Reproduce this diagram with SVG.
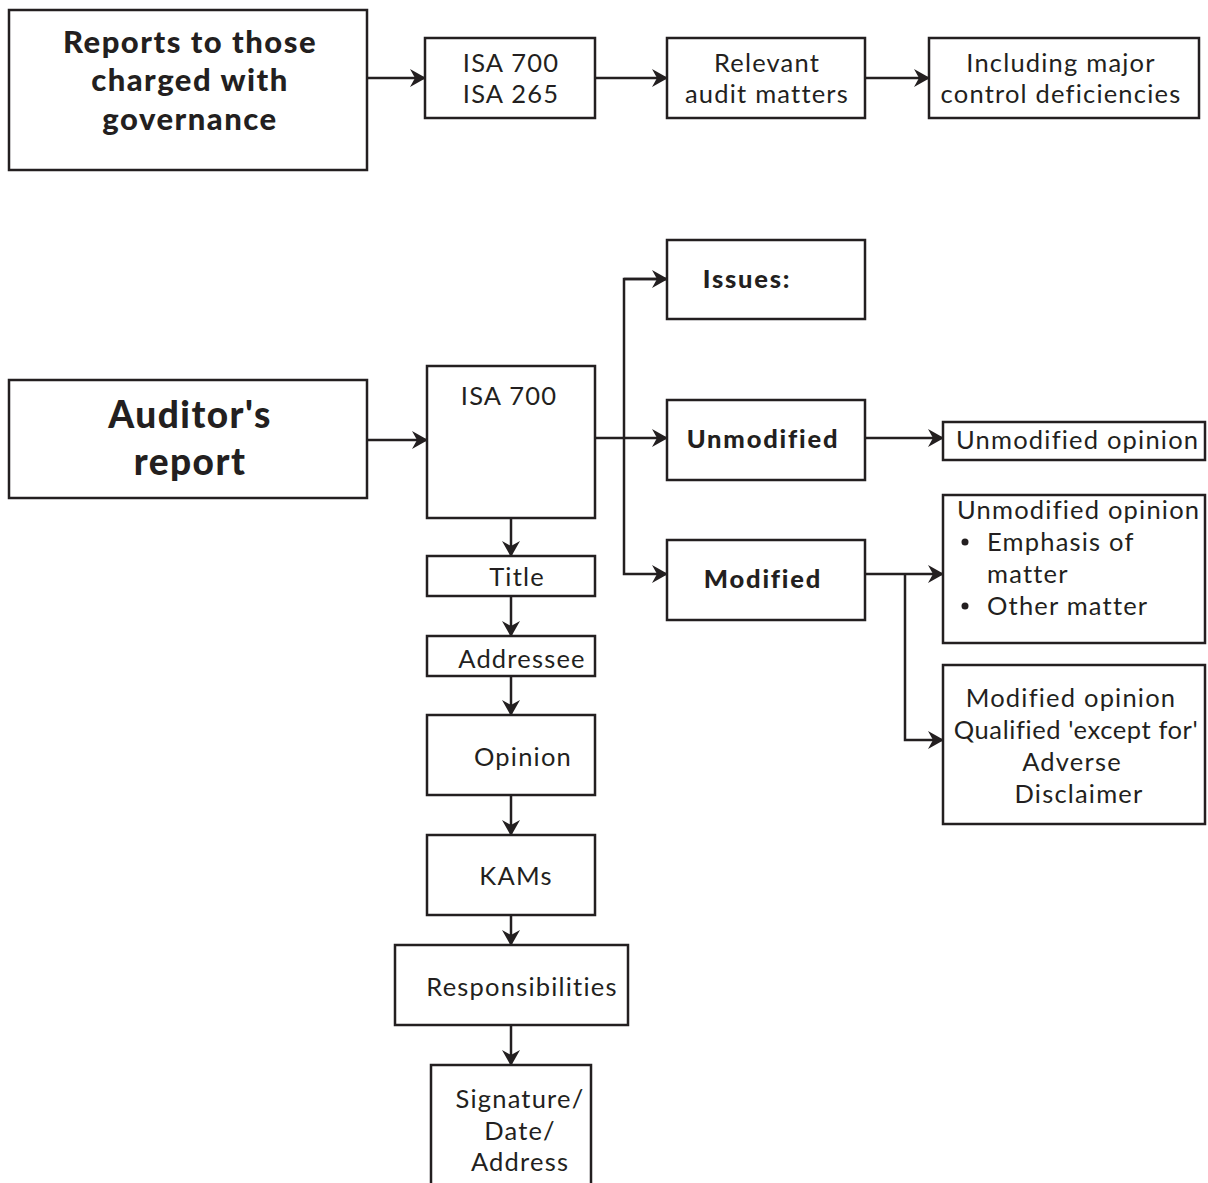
<svg xmlns="http://www.w3.org/2000/svg" width="1208" height="1183" viewBox="0 0 1208 1183">
  <defs>
    <marker id="arrow" markerWidth="20" markerHeight="20" refX="15" refY="10" orient="auto" markerUnits="userSpaceOnUse">
      <path d="M0,1 L16,10 L0,19 L5,10 Z" fill="#231f20"/>
    </marker>
    <style>
      .box { fill: #ffffff; stroke: #231f20; stroke-width: 2.5; }
      .conn { fill: none; stroke: #231f20; stroke-width: 2.5; }
      .t { font-family: Lato, "Open Sans", sans-serif; font-weight: 400; font-size: 25.5px; letter-spacing: 1.2px; fill: #231f20; }
      .tc { text-anchor: middle; }
      .b { font-family: Lato, "Open Sans", sans-serif; font-weight: 900; fill: #231f20; text-anchor: middle; }
    </style>
  </defs>

  <rect width="1208" height="1183" fill="#ffffff"/>

  <!-- connectors -->
  <g id="connectors">
    <path class="conn" d="M367,78 H425" marker-end="url(#arrow)"/>
    <path class="conn" d="M595,78 H667" marker-end="url(#arrow)"/>
    <path class="conn" d="M865,78 H929" marker-end="url(#arrow)"/>

    <path class="conn" d="M367,440 H427" marker-end="url(#arrow)"/>
    <path class="conn" d="M595,438 H667" marker-end="url(#arrow)"/>
    <path class="conn" d="M667,279 H624 V574 H667" marker-end="url(#arrow)"/>
    <path class="conn" d="M624,279 H667" marker-end="url(#arrow)"/>

    <path class="conn" d="M865,438 H943" marker-end="url(#arrow)"/>
    <path class="conn" d="M865,574 H943" marker-end="url(#arrow)"/>
    <path class="conn" d="M905,574 V740 H943" marker-end="url(#arrow)"/>

    <path class="conn" d="M511,518 V556" marker-end="url(#arrow)"/>
    <path class="conn" d="M511,596 V636" marker-end="url(#arrow)"/>
    <path class="conn" d="M511,676 V715" marker-end="url(#arrow)"/>
    <path class="conn" d="M511,795 V835" marker-end="url(#arrow)"/>
    <path class="conn" d="M511,915 V945" marker-end="url(#arrow)"/>
    <path class="conn" d="M511,1025 V1065" marker-end="url(#arrow)"/>
  </g>

  <!-- top row -->
  <g id="node-tcwg">
    <rect class="box" x="9" y="10" width="358" height="160"/>
    <text class="b" font-size="31" letter-spacing="1.5" x="190" y="53">Reports to those</text>
    <text class="b" font-size="31" letter-spacing="1.5" x="190" y="91">charged with</text>
    <text class="b" font-size="31" letter-spacing="1.5" x="190" y="130">governance</text>
  </g>
  <g id="node-isa700-265">
    <rect class="box" x="425" y="38" width="170" height="80"/>
    <text class="t tc" x="511" y="72">ISA 700</text>
    <text class="t tc" x="511" y="103">ISA 265</text>
  </g>
  <g id="node-relevant">
    <rect class="box" x="667" y="38" width="198" height="80"/>
    <text class="t tc" x="767" y="72">Relevant</text>
    <text class="t tc" x="767" y="103">audit matters</text>
  </g>
  <g id="node-deficiencies">
    <rect class="box" x="929" y="38" width="270" height="80"/>
    <text class="t tc" x="1061" y="72">Including major</text>
    <text class="t tc" x="1061" y="103">control deficiencies</text>
  </g>

  <!-- auditor's report -->
  <g id="node-auditors-report">
    <rect class="box" x="9" y="380" width="358" height="118"/>
    <text class="b" font-size="37" letter-spacing="1.5" x="190" y="428">Auditor's</text>
    <text class="b" font-size="37" letter-spacing="1.5" x="190" y="475">report</text>
  </g>
  <g id="node-isa700">
    <rect class="box" x="427" y="366" width="168" height="152"/>
    <text class="t tc" x="509" y="405">ISA 700</text>
  </g>

  <g id="node-issues">
    <rect class="box" x="667" y="240" width="198" height="79"/>
    <text class="b" font-size="25.5" letter-spacing="1.8" x="747" y="288">Issues:</text>
  </g>
  <g id="node-unmodified">
    <rect class="box" x="667" y="400" width="198" height="80"/>
    <text class="b" font-size="25.5" letter-spacing="1.8" x="763" y="448">Unmodified</text>
  </g>
  <g id="node-modified">
    <rect class="box" x="667" y="540" width="198" height="80"/>
    <text class="b" font-size="25.5" letter-spacing="1.8" x="763" y="588">Modified</text>
  </g>

  <g id="node-unmodified-opinion">
    <rect class="box" x="943" y="422" width="262" height="38"/>
    <text class="t" x="956" y="449">Unmodified opinion</text>
  </g>
  <g id="node-emphasis">
    <rect class="box" x="943" y="495" width="262" height="148"/>
    <text class="t" x="957" y="519">Unmodified opinion</text>
    <circle cx="965" cy="542" r="3.5" fill="#231f20"/>
    <text class="t" x="987" y="551">Emphasis of</text>
    <text class="t" x="987" y="583">matter</text>
    <circle cx="965" cy="606" r="3.5" fill="#231f20"/>
    <text class="t" x="987" y="615">Other matter</text>
  </g>
  <g id="node-modified-opinion">
    <rect class="box" x="943" y="665" width="262" height="159"/>
    <text class="t tc" x="1071" y="707">Modified opinion</text>
    <text class="t tc" x="1076" y="739" style="letter-spacing:0.6px">Qualified 'except for'</text>
    <text class="t tc" x="1072" y="771">Adverse</text>
    <text class="t tc" x="1079" y="803">Disclaimer</text>
  </g>

  <!-- report elements -->
  <g id="node-title">
    <rect class="box" x="427" y="556" width="168" height="40"/>
    <text class="t tc" x="517" y="586">Title</text>
  </g>
  <g id="node-addressee">
    <rect class="box" x="427" y="636" width="168" height="40"/>
    <text class="t tc" x="522" y="668">Addressee</text>
  </g>
  <g id="node-opinion">
    <rect class="box" x="427" y="715" width="168" height="80"/>
    <text class="t tc" x="523" y="766">Opinion</text>
  </g>
  <g id="node-kams">
    <rect class="box" x="427" y="835" width="168" height="80"/>
    <text class="t tc" x="516" y="885">KAMs</text>
  </g>
  <g id="node-responsibilities">
    <rect class="box" x="395" y="945" width="233" height="80"/>
    <text class="t tc" x="522" y="996">Responsibilities</text>
  </g>
  <g id="node-signature">
    <path class="conn" d="M431,1185 V1065 H591 V1185"/>
    <text class="t tc" x="520" y="1108">Signature/</text>
    <text class="t tc" x="520" y="1140">Date/</text>
    <text class="t tc" x="520" y="1171">Address</text>
  </g>
</svg>
